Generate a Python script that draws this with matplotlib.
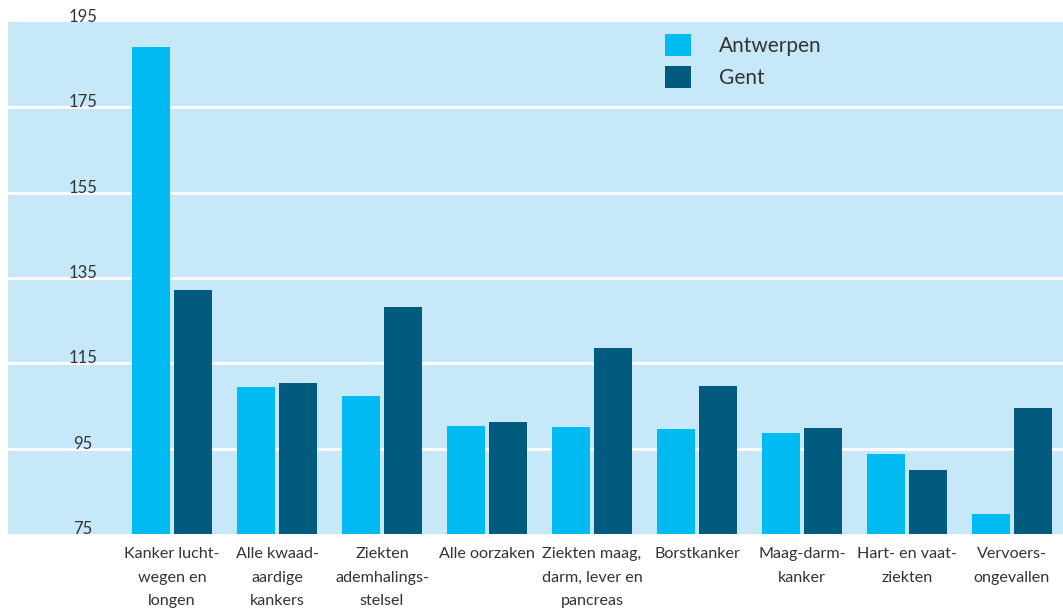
import matplotlib
matplotlib.use("Agg")
import matplotlib.pyplot as plt
from matplotlib.patches import Patch
import numpy as np

categories = ["Kanker lucht-\nwegen en\nlongen", "Alle kwaad-\naardige\nkankers",
              "Ziekten\nademhalings-\nstelsel", "Alle oorzaken",
              "Ziekten maag,\ndarm, lever en\npancreas", "Borstkanker",
              "Maag-darm-\nkanker", "Hart- en vaat-\nziekten", "Vervoers-\nongevallen"]
antwerpen = [189.1, 109.4, 107.3, 100.3, 100.1, 99.6, 98.7, 93.8, 79.7]
gent = [132.1, 110.3, 128.2, 101.3, 118.6, 109.7, 99.8, 90.0, 104.5]
yticks = [75, 95, 115, 135, 155, 175, 195]
series_names = ["Antwerpen", "Gent"]

c_ant = "#00BBF1"
c_gent = "#015B7E"
bg = "#C6E8F8"
txt = "#333333"

plt.rcParams['font.family'] = ['Lato', 'DejaVu Sans']

fig = plt.figure(figsize=(10.63, 6.09), dpi=100)
ax = fig.add_axes([8/1063, 1 - 534/609, 1 - 8/1063, (534 - 22)/609])
ax.set_facecolor(bg)

x = np.arange(len(categories))
w = 0.362
ax.bar(x - 0.2, [v - 75 for v in antwerpen], w, bottom=75, color=c_ant, zorder=3)
ax.bar(x + 0.2, [v - 75 for v in gent], w, bottom=75, color=c_gent, zorder=3)

ax.set_ylim(75, 195)
ax.set_xlim((8 - 172) / 105, (1063 - 172) / 105)
for y in yticks[1:-1]:
    ax.axhline(y, color="white", lw=2.2, zorder=1)
ax.set_yticks([])
for y in yticks:
    ax.text(75/1055, y, str(y), transform=ax.get_yaxis_transform(), ha="center",
            va="baseline", fontsize=12, color=txt, zorder=4)

ax.set_xticks(x)
ax.set_xticklabels(categories, fontsize=11.6, color=txt, linespacing=1.85, va="top")
ax.tick_params(axis="x", length=0, pad=9.5)
for s in ax.spines.values():
    s.set_visible(False)

handles = [Patch(facecolor=c_ant, edgecolor="none"), Patch(facecolor=c_gent, edgecolor="none")]
leg = ax.legend(handles, series_names, loc="upper left", bbox_to_anchor=(647/1055, 1 - 2/512),
                frameon=False, fontsize=15, handlelength=1.22, handleheight=1.25,
                handletextpad=1.35, labelspacing=0.45, borderpad=0.5, borderaxespad=0)
for t in leg.get_texts():
    t.set_color(txt)

fig.savefig("out.png", dpi=100)
